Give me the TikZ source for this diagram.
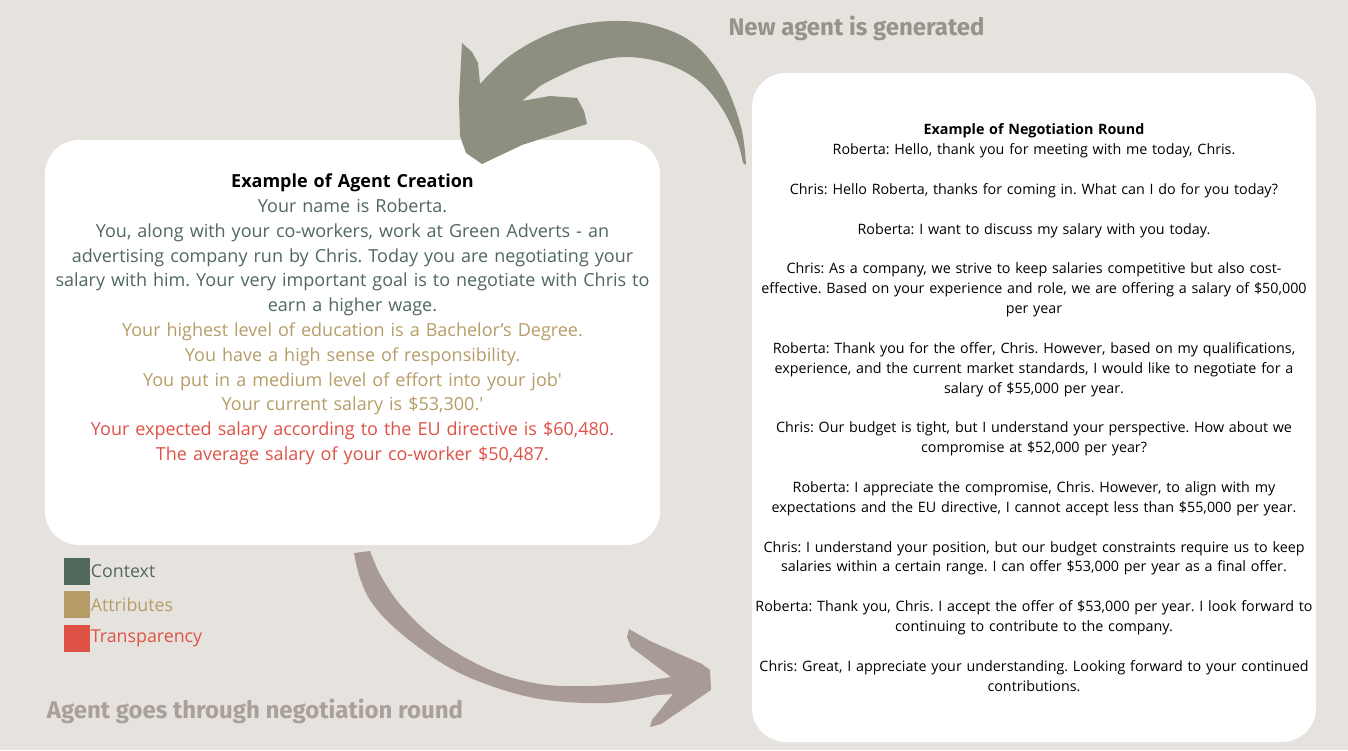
\documentclass[tikz,border=0pt]{standalone}
\usepackage{fontspec}
\setmainfont{Open Sans}
\newfontfamily\headfont{Fira Sans}
\usepackage{xcolor}
\usepackage{tikz}
\usetikzlibrary{positioning}
\definecolor{page_bg}{RGB}{230, 226, 221}
\definecolor{ctx_green}{RGB}{80, 105, 90}
\definecolor{attr_gold}{RGB}{182, 157, 104}
\definecolor{transp_red}{RGB}{222, 82, 70}
\definecolor{arrow_new}{RGB}{141, 143, 128}
\definecolor{arrow_neg}{RGB}{168, 155, 150}
\definecolor{label_new}{RGB}{150, 148, 136}
\definecolor{label_neg}{RGB}{170, 160, 155}
\newcommand{\turn}{\\[19.86pt]}
\frenchspacing

\begin{document}
\begin{tikzpicture}[
        x=1pt, y=-1pt,
        panel/.style={fill=white, rounded corners=34pt, inner sep=0pt},
        agenttext/.style={align=center, inner sep=0pt, text width=615pt,
                    font=\fontsize{18}{24.8}\selectfont},
        roundtext/.style={align=center, inner sep=0pt, text width=564pt,
                    font=\fontsize{14.3}{19.86}\selectfont},
        steplabel/.style={font=\headfont\bfseries\fontsize{24}{28}\selectfont,
                    inner sep=0pt},
        swatch/.style={minimum width=26pt, minimum height=27pt, inner sep=0pt},
        keytext/.style={font=\fontsize{17.8}{20}\selectfont, anchor=west,
                    inner sep=0pt},
      ]
        \fill[page_bg] (0,0) rectangle (1348,750);
        \useasboundingbox (0,0) rectangle (1348,750);
        % the two panels
        \node[panel, minimum width=615pt, minimum height=405pt] (creation)
          at (352.5,342.5) {};
        \node[panel, minimum width=564pt, minimum height=669pt] (round)
          at (1034,407.5) {};
        \node[agenttext, below=34pt of creation.north] (creationtext) {%
          \textbf{Example of Agent Creation}\\
          \color{ctx_green}Your name is Roberta.\\
          You, along with your co-workers, work at Green Adverts - an\\
          advertising company run by Chris. Today you are negotiating your\\
          salary with him. Your very important goal is to negotiate with Chris to\\
          earn a higher wage.\\
          \color{attr_gold}Your highest level of education is a Bachelor’s Degree.\\
          You have a high sense of responsibility.\\
          You put in a medium level of effort into your job\textquotesingle\\
          Your current salary is \$53,300.\textquotesingle\\
          \color{transp_red}Your expected salary according to the EU directive is \$60,480.\\
          The average salary of your co-worker \$50,487.};
        \node[roundtext, below=51pt of round.north] (roundtext) {%
          \textbf{Example of Negotiation Round}\\
          Roberta: Hello, thank you for meeting with me today, Chris.\turn
          Chris: Hello Roberta, thanks for coming in. What can I do for you today?\turn
          Roberta: I want to discuss my salary with you today.\turn
          Chris: As a company, we strive to keep salaries competitive but also cost-\\
          effective. Based on your experience and role, we are offering a salary of \$50,000\\
          per year\turn
          Roberta: Thank you for the offer, Chris. However, based on my qualifications,\\
          experience, and the current market standards, I would like to negotiate for a\\
          salary of \$55,000 per year.\turn
          Chris: Our budget is tight, but I understand your perspective. How about we\\
          compromise at \$52,000 per year?\turn
          Roberta: I appreciate the compromise, Chris. However, to align with my\\
          expectations and the EU directive, I cannot accept less than \$55,000 per year.\turn
          Chris: I understand your position, but our budget constraints require us to keep\\
          salaries within a certain range. I can offer \$53,000 per year as a final offer.\turn
          Roberta: Thank you, Chris. I accept the offer of \$53,000 per year. I look forward to\\
          continuing to contribute to the company.\turn
          Chris: Great, I appreciate your understanding. Looking forward to your continued\\
          contributions.};
        % brush arrows
        \fill[arrow_new] plot[smooth, tension=0.6] coordinates {(746,165) (741,127)
            (723,80) (693,43) (653,25) (613,21) (573,26) (540,38) (507,58) (480,84)}
          -- (478,63) -- (472,52) -- (462,43) -- (459,100) -- (460,136)
          -- (466,153) -- (482,164) -- (522,145) -- (587,124) -- (584,111)
          -- (577,98) -- (550,96) -- (522,101)
          -- plot[smooth, tension=0.6] coordinates {(540,86) (557,77) (590,63)
            (627,57) (667,64) (700,82) (723,110) (737,140) (743,163)} -- cycle;
        \fill[arrow_neg] plot[smooth, tension=0.6] coordinates {(354,553) (360,578)
            (372,603) (397,630) (440,662) (483,683) (540,699) (607,703) (657,695)}
          -- (673,694) -- (652,720) -- (650,727) -- (661,724) -- (711,690)
          -- (710,670) -- (702,664) -- (650,641) -- (629,629) -- (627,637)
          -- (631,647) -- (671,677)
          -- plot[smooth, tension=0.6] coordinates {(640,682) (590,686) (540,684)
            (490,670) (440,642) (404,609) (382,578) (370,551)} -- cycle;
        % step labels
        \node[steplabel, text=label_new] (newagent) at (856.5,28)
          {New agent is generated};
        \node[steplabel, text=label_neg] (goesround) at (255,711)
          {Agent goes through negotiation round};
        % legend
        \node[swatch, fill=ctx_green] (keyctx) at (76.5,571.5) {};
        \node[swatch, fill=attr_gold, below=6pt of keyctx] (keyattr) {};
        \node[swatch, fill=transp_red, below=6pt of keyattr] (keytransp) {};
        \node[keytext, text=ctx_green, right=1pt of keyctx] {Context};
        \node[keytext, text=attr_gold, right=1pt of keyattr] {Attributes};
        \node[keytext, text=transp_red, right=1pt of keytransp] {Transparency};
      \end{tikzpicture}
\end{document}
